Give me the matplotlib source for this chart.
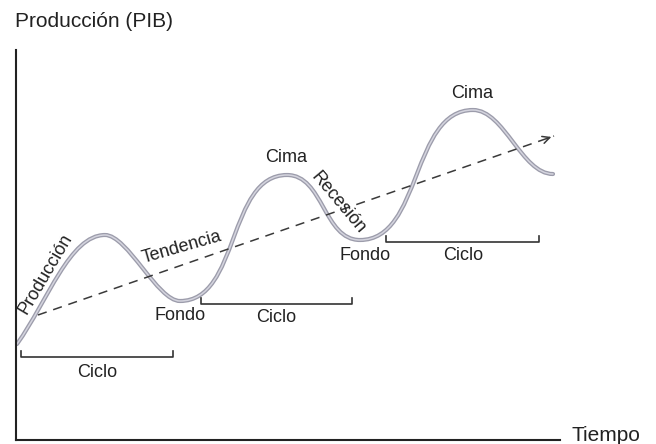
import matplotlib
matplotlib.use("Agg")
import matplotlib.pyplot as plt
from matplotlib.path import Path
from matplotlib.patches import PathPatch

plt.rcParams['font.family'] = ['Liberation Sans', 'DejaVu Sans']

# turning points of the output curve (time, output)
tiempo = [17, 105, 180, 287, 360, 473, 553]
produccion = [100, 209, 143, 269, 204, 334, 270]
# how far the curve keeps flat around each turn (fraction of the segment)
suavizado = [0.40, 0.30, 0.56, 0.50, 0.55, 0.39]
pendiente_inicio = 1.4

# trend line (start, end)
tendencia_x = [38, 554]
tendencia_y = [129, 308]

# cycles: (start, end, level)
ciclos = [(21, 173, 87), (201, 352, 140), (386, 539, 202)]

fig = plt.figure(figsize=(6.56, 4.44), dpi=100)
ax = fig.add_axes([0, 0, 1, 1])
ax.set_xlim(0, 656)
ax.set_ylim(0, 444)
ax.set_xticks([])
ax.set_yticks([])
for s in ['top', 'right']:
    ax.spines[s].set_visible(False)
ax.spines['left'].set_position(('data', 16))
ax.spines['left'].set_bounds(4, 394)
ax.spines['bottom'].set_position(('data', 4))
ax.spines['bottom'].set_bounds(16, 560)
for s in ['left', 'bottom']:
    ax.spines[s].set_linewidth(1.5)
    ax.spines[s].set_color('#222222')

# build the smooth curve as cubic bezier segments between turning points
verts = [(tiempo[0], produccion[0])]
codes = [Path.MOVETO]
for i in range(len(tiempo) - 1):
    x0, y0 = tiempo[i], produccion[i]
    x1, y1 = tiempo[i + 1], produccion[i + 1]
    dx = x1 - x0
    k = suavizado[i]
    if i == 0:
        c1 = (x0 + 0.35 * dx, y0 + 0.35 * dx * pendiente_inicio)
    else:
        c1 = (x0 + k * dx, y0)
    c2 = (x1 - k * dx, y1)
    verts += [c1, c2, (x1, y1)]
    codes += [Path.CURVE4] * 3
curva = Path(verts, codes)

# scanned-looking gray curve: dark edge + light core
ax.add_patch(PathPatch(curva, fill=False, edgecolor='#9c9cab', lw=3.0,
                       capstyle='round'))
ax.add_patch(PathPatch(curva, fill=False, edgecolor='#d4d4de', lw=1.1,
                       capstyle='round'))

# trend
ax.plot(tendencia_x, tendencia_y, color='#3a3a3a', lw=1.1, ls=(0, (6, 4.5)))
ax.annotate('', xy=(tendencia_x[1], tendencia_y[1]),
            xytext=(tendencia_x[1] - 10, tendencia_y[1] - 3.5),
            arrowprops=dict(arrowstyle='->', color='#3a3a3a', lw=1.1,
                            mutation_scale=13))

# brackets
for x0, x1, y in ciclos:
    ax.plot([x0, x0, x1, x1], [y + 6, y, y, y + 6], color='#333333', lw=1.2)

ejes = dict(color='#222222', fontsize=15)
txt = dict(color='#222222', fontsize=13)
ax.text(15, 422, 'Producción (PIB)', ha='left', va='center', **ejes)
ax.text(572, 9, 'Tiempo', ha='left', va='center', **ejes)
ax.text(97, 72, 'Ciclo', ha='center', va='center', **txt)
ax.text(276, 127, 'Ciclo', ha='center', va='center', **txt)
ax.text(463, 189, 'Ciclo', ha='center', va='center', **txt)
ax.text(180, 128, 'Fondo', ha='center', va='center', **txt)
ax.text(365, 189, 'Fondo', ha='center', va='center', **txt)
ax.text(286, 286, 'Cima', ha='center', va='center', **txt)
ax.text(472, 351, 'Cima', ha='center', va='center', **txt)
ax.text(46, 170, 'Producción', ha='center', va='center', rotation=59.5,
        rotation_mode='anchor', **txt)
ax.text(182, 197, 'Tendencia', ha='center', va='center', rotation=16,
        rotation_mode='anchor', **txt)
ax.text(338, 241, 'Recesión', ha='center', va='center', rotation=-50,
        rotation_mode='anchor', **txt)

fig.savefig('out.png', dpi=100)
